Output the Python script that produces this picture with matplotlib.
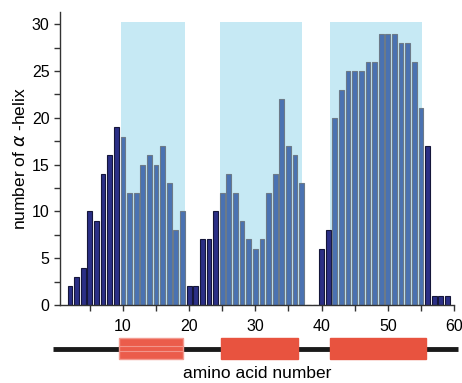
import matplotlib
matplotlib.use("Agg")
import matplotlib.pyplot as plt
from matplotlib.patches import Rectangle
from matplotlib.ticker import MultipleLocator

plt.rcParams['font.family'] = ['Liberation Sans', 'DejaVu Sans']

# residue numbers and helix counts
residues = list(range(2, 60))
counts = [2, 3, 4, 10, 9, 14, 16, 19, 18, 12, 12, 15, 16, 15, 17, 13, 8, 10,
          2, 2, 7, 7, 10, 12, 14, 12, 9, 7, 6, 7, 12, 14, 22, 17, 16, 13,
          0, 0, 6, 8, 20, 23, 25, 25, 25, 26, 26, 29, 29, 29, 28, 28, 26, 21,
          17, 1, 1, 1]

# helix regions (first, last residue) and shaded spans
helices = [(10, 19), (25, 37), (42, 55)]
shade_spans = [(9.7, 19.4), (24.6, 37.1), (41.2, 55.2)]
box_spans = [(9.35, 19.1), (24.8, 36.5), (41.3, 55.7)]

fig = plt.figure(figsize=(4.62, 3.83), dpi=100)
ax = fig.add_axes([60 / 462, 1 - 305 / 383, 394 / 462, 293 / 383])

def in_helix(r):
    return any(a <= r <= b for a, b in helices)

for a, b in shade_spans:
    ax.add_patch(Rectangle((a, 0), b - a, 30.2, color='#c6e9f4', lw=0, zorder=0))

dark = [r for r in residues if not in_helix(r)]
light = [r for r in residues if in_helix(r)]
ax.bar(dark, [counts[residues.index(r)] for r in dark], width=0.72,
       color='#2b2f86', edgecolor='#15163a', lw=0.8, zorder=2)
ax.bar(light, [counts[residues.index(r)] for r in light], width=0.72,
       color='#4a72b2', edgecolor='#6c7a88', lw=0.8, zorder=2)

ax.set_xlim(0.5, 60)
ax.set_ylim(0, 31.3)
for s in ['top', 'right']:
    ax.spines[s].set_visible(False)
for s in ['left', 'bottom']:
    ax.spines[s].set_color('#333333')
    ax.spines[s].set_linewidth(1.0)
ax.xaxis.set_minor_locator(MultipleLocator(5))
ax.yaxis.set_major_locator(MultipleLocator(5))
ax.yaxis.set_minor_locator(MultipleLocator(2.5))
ax.set_xticks([10, 20, 30, 40, 50, 60])
ax.tick_params(which='both', direction='out', length=4, width=1, color='#333333',
               labelsize=11.5)
ax.tick_params(axis='x', pad=6)
ax.set_ylabel('number of $\\alpha$ -helix', fontsize=12.5, labelpad=3)

# domain diagram below
ax2 = fig.add_axes([60 / 462, 1 - 364 / 383, 394 / 462, 31 / 383])
ax2.set_xlim(0.5, 60)
ax2.set_ylim(0, 1)
ax2.axis('off')
ax2.plot([-0.55, 60.6], [0.5, 0.5], color='#1a1a1a', lw=3.5, clip_on=False,
         solid_capstyle='butt', zorder=1)
for i, (a, b) in enumerate(box_spans):
    fc = '#eb5c4b' if i == 0 else '#e8533f'
    ec = '#f39a90' if i == 0 else '#e8533f'
    ax2.add_patch(Rectangle((a, 0.16), b - a, 0.68, facecolor=fc, edgecolor=ec,
                            lw=1, zorder=2, clip_on=False))
    if i == 0:
        for yy in (0.41, 0.57):
            ax2.plot([a, b], [yy, yy], color='#f2948a', lw=0.8, zorder=3)

fig.text(257 / 462, 1 - 378 / 383, 'amino acid number', ha='center', va='baseline',
         fontsize=12.5)

fig.savefig('out.png', dpi=100)
